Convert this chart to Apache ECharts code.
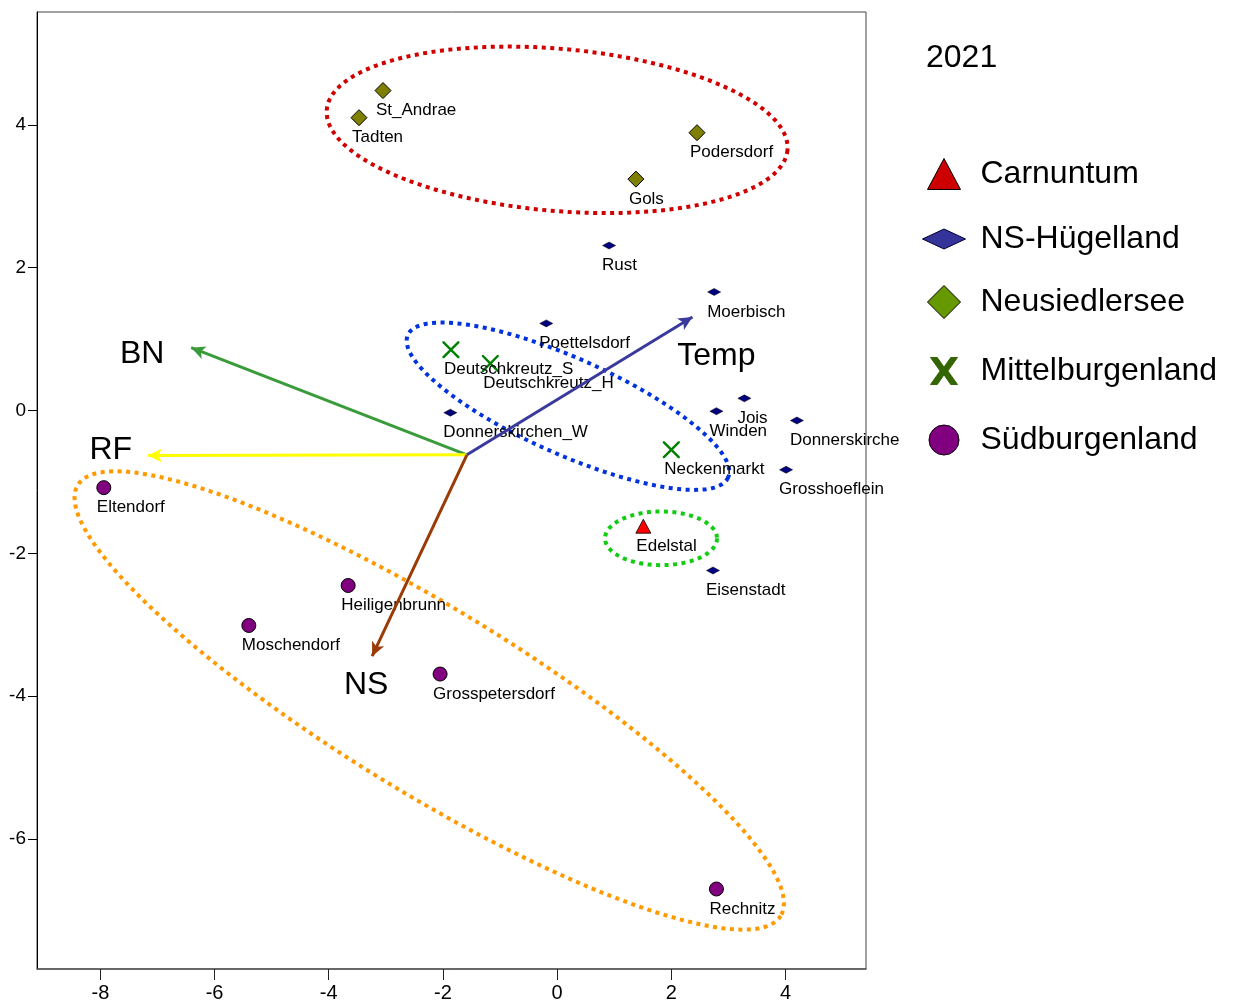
<!DOCTYPE html>
<html>
<head>
<meta charset="utf-8">
<script src="https://cdn.jsdelivr.net/npm/echarts@6/dist/echarts.min.js"></script>
<style>
html, body { margin: 0; padding: 0; background: #fff; }
#chart { width: 1242px; height: 1003px; }
</style>
</head>
<body>
<div id="chart"></div>
<script>
// site scores (axis 1 / axis 2), 2021
const carnNames = ['Edelstal'];
const carnX = [1.51];
const carnY = [-1.62];

const nshNames = ['Rust', 'Moerbisch', 'Poettelsdorf', 'Donnerskirchen_W', 'Winden', 'Jois', 'Donnerskirchen', 'Grosshoeflein', 'Eisenstadt'];
const nshX = [0.91, 2.75, -0.19, -1.87, 2.79, 3.28, 4.20, 4.01, 2.73];
const nshY = [2.31, 1.66, 1.22, -0.03, -0.01, 0.17, -0.14, -0.83, -2.24];

const nsdNames = ['St_Andrae', 'Tadten', 'Podersdorf', 'Gols'];
const nsdX = [-3.05, -3.47, 2.45, 1.38];
const nsdY = [4.48, 4.10, 3.89, 3.24];

const mbgNames = ['Deutschkreutz_S', 'Deutschkreutz_H', 'Neckenmarkt'];
const mbgX = [-1.86, -1.17, 2.00];
const mbgY = [0.85, 0.66, -0.55];

const sbgNames = ['Eltendorf', 'Heiligenbrunn', 'Moschendorf', 'Grosspetersdorf', 'Rechnitz'];
const sbgX = [-7.94, -3.66, -5.40, -2.05, 2.79];
const sbgY = [-1.08, -2.45, -3.01, -3.69, -6.70];

// environmental vectors
const vecNames = ['BN', 'RF', 'Temp', 'NS'];
const vecX = [-6.41, -7.17, 2.37, -3.24];
const vecY = [0.88, -0.63, 1.31, -3.44];
const vecOrigin = [-1.58, -0.62];

const xTicks = [-8, -6, -4, -2, 0, 2, 4];
const yTicks = [-6, -4, -2, 0, 2, 4];

// styling
const labelFont = "'Liberation Sans', Arial, sans-serif";
const bigFont = "'Liberation Sans', Arial, sans-serif";
const vecColors = ['#3a9b3a', '#ffff00', '#3a3a9e', '#9a3a06'];
const vecLabelOffset = [[-49, 7], [-37, -5], [24, 39], [-6, 29]];
const xPath = 'path://M0,0 L2,0 L10,8 L18,0 L20,0 L20,2 L12,10 L20,18 L20,20 L18,20 L10,12 L2,20 L0,20 L0,18 L8,10 L0,2 Z';
const xBoldPath = 'path://M0,0 L7,0 L14,10 L21,0 L28,0 L18,14 L28,28 L21,28 L14,18 L7,28 L0,28 L10,14 Z';

// dotted group outlines: centre (data), half axes (x units), rotation (deg)
const outlines = [
  { c: [0.0, 3.93], a: 4.05, b: 1.42, rot: 5, color: '#d00000' },
  { c: [0.19, 0.06], a: 3.07, b: 0.84, rot: 24, color: '#0033dd' },
  { c: [1.82, -1.79], a: 0.98, b: 0.47, rot: 0, color: '#11cc11' },
  { c: [-2.24, -4.06], a: 7.22, b: 1.61, rot: 31.5, color: '#ff9900' }
];

function points(names, xs, ys) {
  return names.map(function (n, i) { return { name: n, value: [xs[i], ys[i]] }; });
}

const pointLabel = {
  show: true,
  position: 'inside',
  align: 'left',
  verticalAlign: 'middle',
  offset: [-7, 20],
  formatter: '{b}',
  color: '#000',
  fontFamily: labelFont,
  fontSize: 17
};

const nshData = points(nshNames, nshX, nshY);
// the plot region cuts this label off on the right
nshData[6].label = { width: 113, overflow: 'truncate', ellipsis: '' };

const legendCfg = [
  { name: 'Carnuntum', icon: 'triangle', w: 33, h: 31, cy: 173, color: '#cc0000', border: '#000' },
  { name: 'NS-Hügelland', icon: 'diamond', w: 43, h: 20, cy: 238, color: '#333399', border: '#000033' },
  { name: 'Neusiedlersee', icon: 'diamond', w: 33, h: 33, cy: 300, color: '#669900', border: '#000' },
  { name: 'Mittelburgenland', icon: xBoldPath, w: 27, h: 28, cy: 370, color: '#336600', border: '#336600' },
  { name: 'Südburgenland', icon: 'circle', w: 30, h: 30, cy: 439, color: '#800080', border: '#000' }
];

const chart = echarts.init(document.getElementById('chart'), null, { renderer: 'canvas' });

chart.setOption({
  animation: false,
  backgroundColor: '#fff',
  title: {
    text: '2021',
    left: 926,
    top: 42,
    padding: 0,
    textStyle: { fontSize: 32, fontWeight: 'normal', color: '#000', fontFamily: bigFont }
  },
  legend: legendCfg.map(function (l) {
    return {
      data: [{ name: l.name, icon: l.icon, itemStyle: { color: l.color, borderColor: l.border, borderWidth: 1, opacity: 1 } }],
      left: 943.5 - l.w / 2,
      top: l.cy - 15,
      itemWidth: l.w,
      itemHeight: l.h,
      padding: 0,
      selectedMode: false,
      textStyle: { fontSize: 32, color: '#000', fontFamily: bigFont, padding: [0, 0, 0, 31.5 - l.w / 2] }
    };
  }),
  grid: {
    left: 37,
    top: 12,
    width: 829,
    height: 958,
    show: true,
    borderColor: '#444',
    borderWidth: 1
  },
  xAxis: {
    type: 'value',
    min: -9.11,
    max: 5.41,
    splitLine: { show: false },
    axisLine: { onZero: false, lineStyle: { color: '#555', width: 1.5 } },
    axisTick: { length: 11, customValues: xTicks, lineStyle: { color: '#222' } },
    axisLabel: { customValues: xTicks, color: '#000', fontSize: 20, fontFamily: labelFont, margin: 14 }
  },
  yAxis: {
    type: 'value',
    min: -7.82,
    max: 5.58,
    splitLine: { show: false },
    axisLine: { onZero: false, lineStyle: { color: '#000', width: 1 } },
    axisTick: { length: 9, customValues: yTicks, lineStyle: { color: '#000' } },
    axisLabel: { customValues: yTicks, color: '#000', fontSize: 19, fontFamily: labelFont, margin: 11 }
  },
  series: [
    {
      type: 'custom',
      name: 'outlines',
      silent: true,
      z: 1,
      encode: { x: 0, y: 1 },
      data: outlines.map(function (o) { return [o.c[0], o.c[1], o.a, o.b, o.rot]; }),
      renderItem: function (params, api) {
        const c = api.coord([api.value(0), api.value(1)]);
        const a = api.size([api.value(2), 0])[0];
        const b = api.size([api.value(3), 0])[0];
        const r = api.value(4) * Math.PI / 180;
        const pts = [];
        for (let i = 0; i < 180; i++) {
          const t = i / 180 * Math.PI * 2;
          const ex = a * Math.cos(t), ey = b * Math.sin(t);
          pts.push([c[0] + ex * Math.cos(r) - ey * Math.sin(r), c[1] + ex * Math.sin(r) + ey * Math.cos(r)]);
        }
        return {
          type: 'polygon',
          shape: { points: pts },
          style: { fill: 'none', stroke: outlines[params.dataIndex].color, lineWidth: 4, lineDash: [4, 4.5] }
        };
      }
    },
    {
      type: 'scatter',
      name: 'vectors',
      silent: true,
      z: 2,
      symbolSize: 0,
      itemStyle: { color: 'rgba(0,0,0,0)', opacity: 1 },
      data: vecNames.map(function (n, i) {
        return { name: n, value: [vecX[i], vecY[i]], label: { offset: vecLabelOffset[i] } };
      }),
      label: {
        show: true,
        position: 'inside',
        formatter: '{b}',
        color: '#000',
        fontSize: 32,
        fontFamily: bigFont
      },
      markLine: {
        silent: true,
        animation: false,
        symbol: ['none', 'arrow'],
        symbolSize: [10, 14],
        label: { show: false },
        emphasis: { disabled: true },
        lineStyle: { type: 'solid', width: 3 },
        data: vecNames.map(function (n, i) {
          return [
            { coord: vecOrigin, lineStyle: { color: vecColors[i], width: 3, type: 'solid' } },
            { coord: [vecX[i], vecY[i]] }
          ];
        })
      }
    },
    {
      type: 'scatter',
      name: 'Carnuntum',
      z: 3,
      symbol: 'triangle',
      symbolSize: [15, 14],
      itemStyle: { color: '#ff0000', borderColor: '#000', borderWidth: 0.8, opacity: 1 },
      label: pointLabel,
      data: points(carnNames, carnX, carnY)
    },
    {
      type: 'scatter',
      name: 'NS-Hügelland',
      z: 3,
      symbol: 'diamond',
      symbolSize: [13, 7],
      itemStyle: { color: '#000080', borderColor: '#000', borderWidth: 0.5, opacity: 1 },
      label: pointLabel,
      data: nshData
    },
    {
      type: 'scatter',
      name: 'Neusiedlersee',
      z: 3,
      symbol: 'diamond',
      symbolSize: [16, 16],
      itemStyle: { color: '#808000', borderColor: '#000', borderWidth: 1, opacity: 1 },
      label: pointLabel,
      data: points(nsdNames, nsdX, nsdY)
    },
    {
      type: 'scatter',
      name: 'Mittelburgenland',
      z: 3,
      symbol: xPath,
      symbolSize: 17,
      itemStyle: { color: '#008000', opacity: 1 },
      label: pointLabel,
      data: points(mbgNames, mbgX, mbgY)
    },
    {
      type: 'scatter',
      name: 'Südburgenland',
      z: 3,
      symbol: 'circle',
      symbolSize: 14,
      itemStyle: { color: '#800080', borderColor: '#000', borderWidth: 1, opacity: 1 },
      label: pointLabel,
      data: points(sbgNames, sbgX, sbgY)
    }
  ]
});
</script>
</body>
</html>
